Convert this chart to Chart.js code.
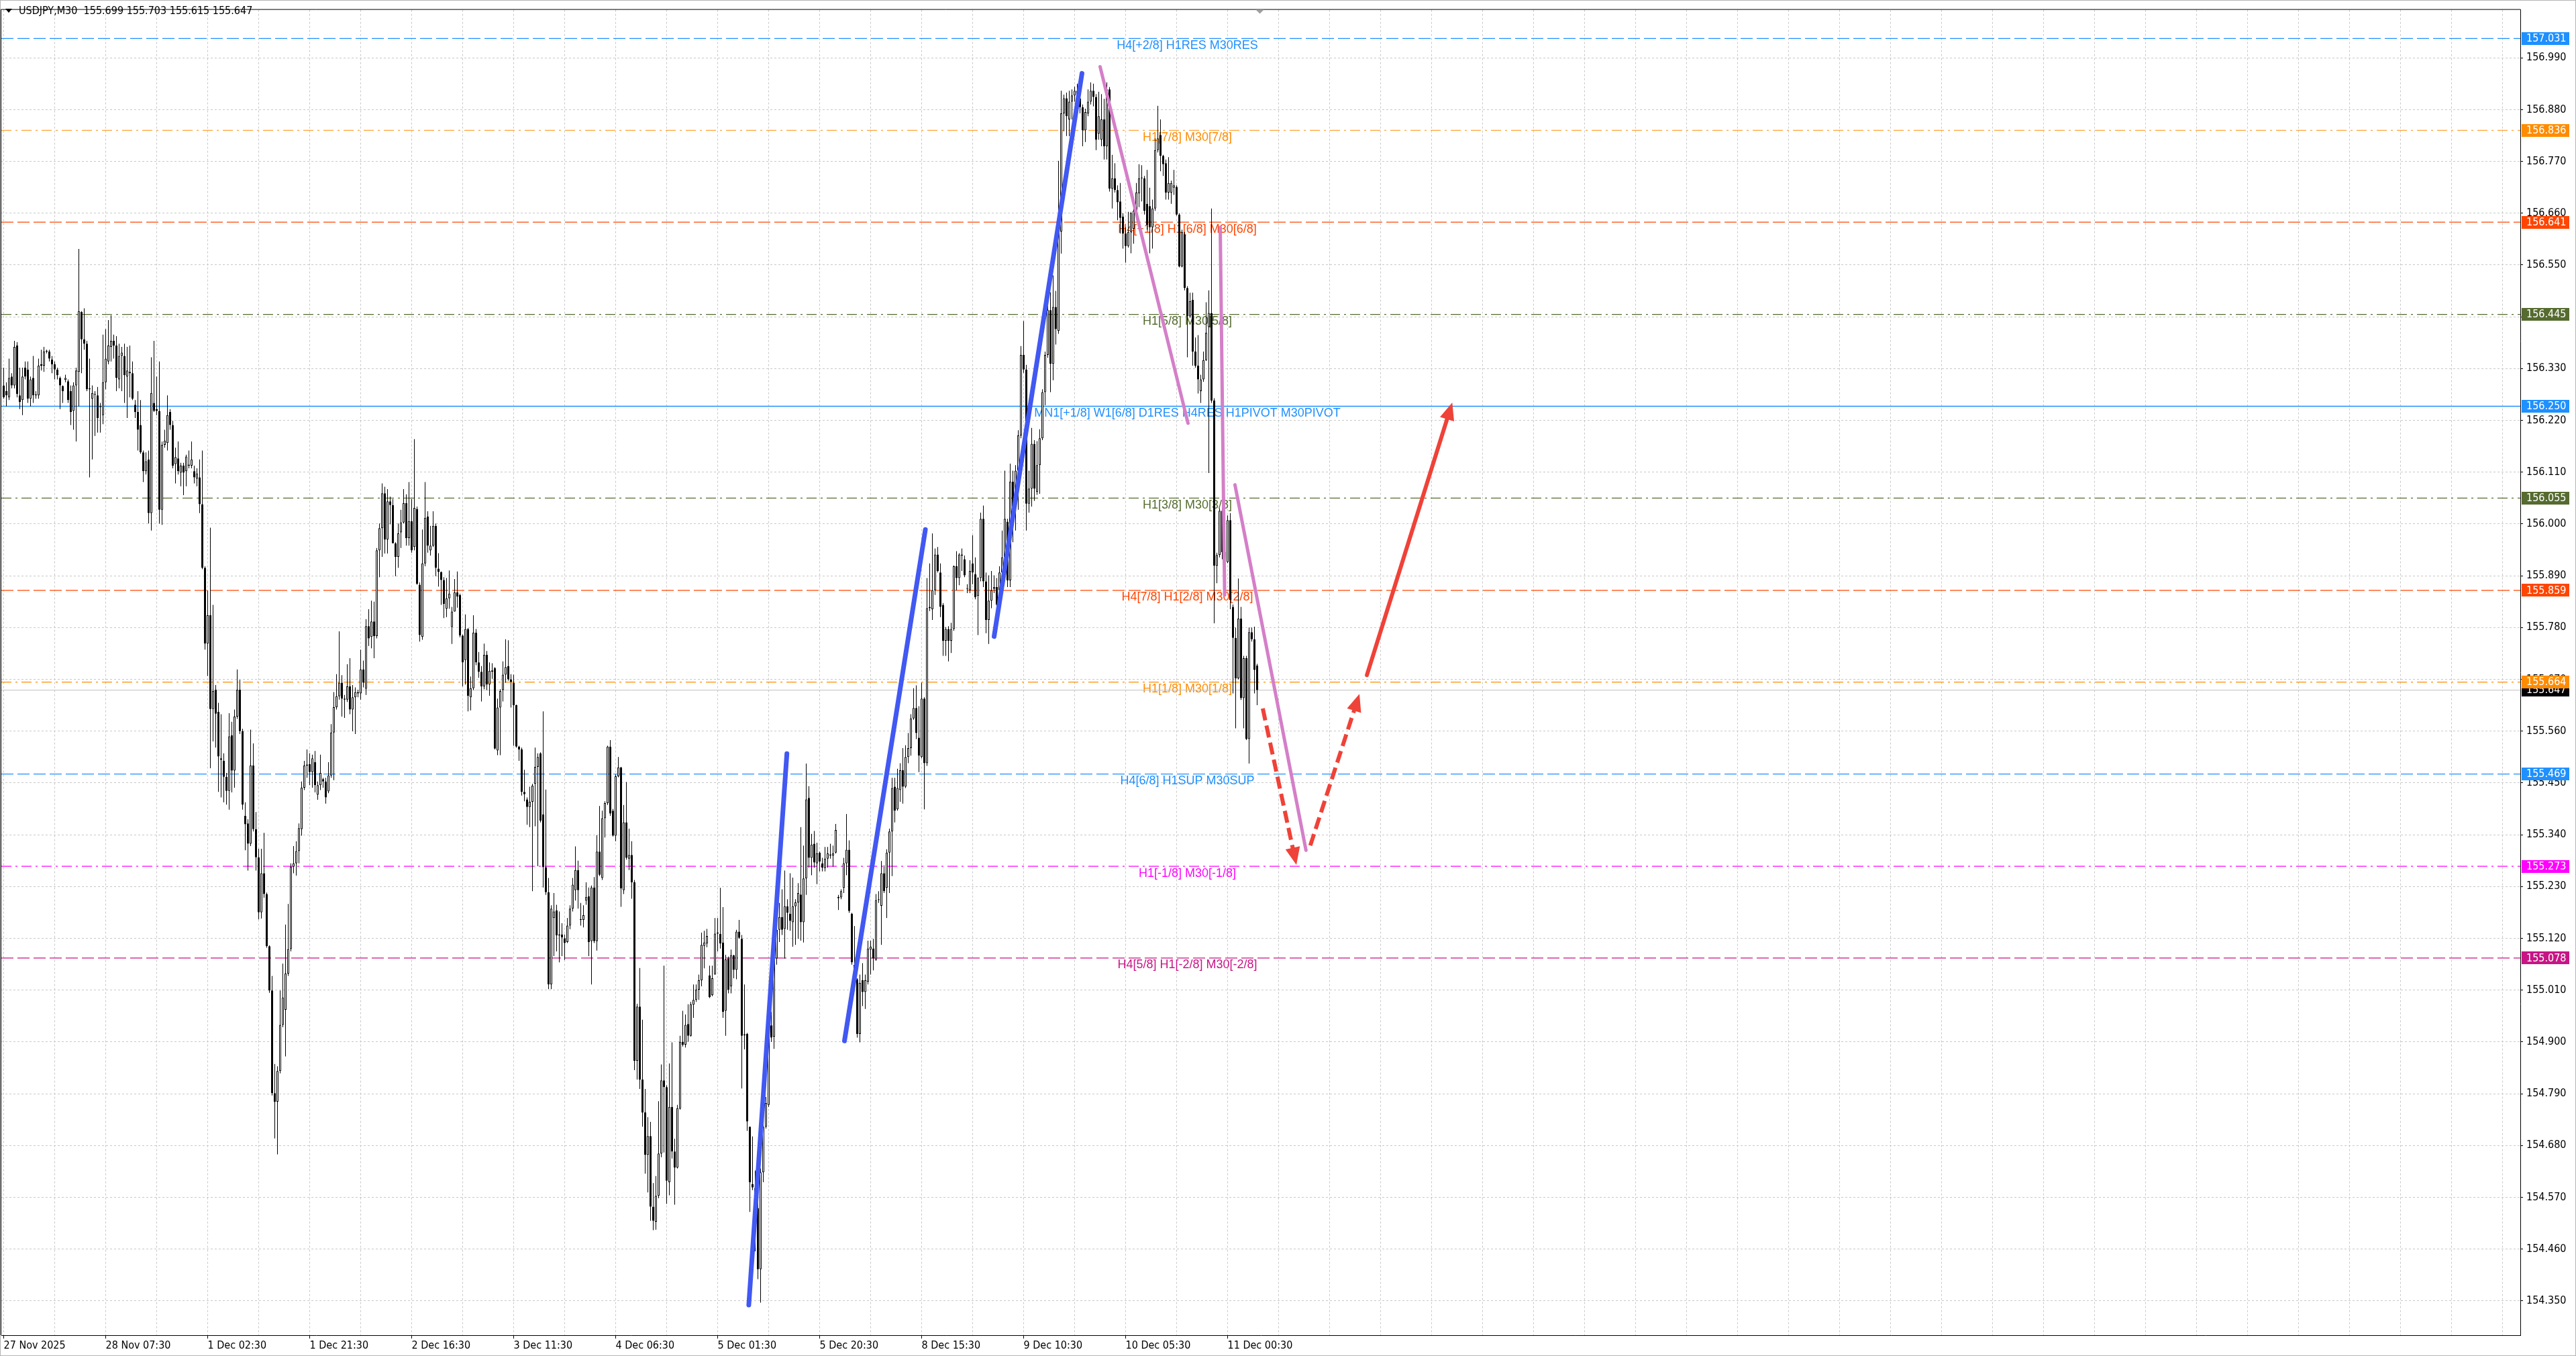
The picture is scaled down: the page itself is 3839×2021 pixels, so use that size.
<!DOCTYPE html>
<html>
<head>
<meta charset="utf-8">
<title>USDJPY,M30</title>
<script src="https://cdn.jsdelivr.net/npm/chart.js@4.4.1/dist/chart.umd.min.js"></script>
<style>
  html, body { margin: 0; padding: 0; background: #fff; overflow: hidden; }
  #wrap { position: relative; width: 3839px; height: 2021px; }
</style>
</head>
<body>
<div id="wrap"><canvas id="chart"></canvas></div>
<script>
const SYMBOL = "USDJPY,M30";

// Etiquetas del eje de tiempo (una cada 38 velas)
const X_LABELS = ["27 Nov 2025", "28 Nov 07:30", "1 Dec 02:30", "1 Dec 21:30", "2 Dec 16:30",
  "3 Dec 11:30", "4 Dec 06:30", "5 Dec 01:30", "5 Dec 20:30", "8 Dec 15:30",
  "9 Dec 10:30", "10 Dec 05:30", "11 Dec 00:30"];

const Y_TICKS = [154.350, 154.460, 154.570, 154.680, 154.790, 154.900, 155.010, 155.120,
  155.230, 155.340, 155.450, 155.560, 155.670, 155.780, 155.890, 156.000, 156.110,
  156.220, 156.330, 156.440, 156.550, 156.660, 156.770, 156.880, 156.990];

// Velas M30
const OPEN = [
  156.294,156.282,156.269,156.313,156.294,156.379,156.273,156.263,156.332,156.328,
  156.266,156.310,156.273,156.273,156.336,156.336,156.366,156.366,156.349,156.339,
  156.328,156.310,156.293,156.306,156.303,156.282,156.240,156.294,156.323,156.450,
  156.392,156.383,156.288,156.266,156.276,156.273,156.248,156.231,156.301,156.345,
  156.376,156.389,156.379,156.307,156.357,156.357,156.313,156.323,156.320,156.253,
  156.238,156.210,156.152,156.112,156.137,156.023,156.257,156.244,156.240,156.030,
  156.168,156.172,156.238,156.210,156.127,156.139,156.109,156.124,156.112,156.126,
  156.124,156.112,156.096,156.099,156.042,155.907,155.746,155.806,155.607,155.648,
  155.601,155.502,155.497,155.463,155.433,155.551,155.476,155.591,155.648,155.560,
  155.380,155.364,155.321,155.487,155.352,155.292,155.175,155.258,155.214,155.103,
  155.009,154.791,154.773,154.838,154.936,154.968,155.045,155.097,155.272,155.279,
  155.305,155.352,155.440,155.487,155.490,155.473,155.494,155.425,155.445,155.458,
  155.453,155.432,155.466,155.557,155.611,155.634,155.663,155.629,155.627,155.655,
  155.606,155.632,155.643,155.640,155.691,155.650,155.783,155.760,155.793,155.762,
  155.944,155.991,156.065,155.967,156.048,156.040,155.959,155.930,155.982,156.003,
  156.044,155.970,156.006,155.951,156.032,155.871,155.760,155.916,156.016,155.944,
  155.954,155.996,155.905,155.898,155.881,155.820,155.842,155.781,155.814,155.855,
  155.849,155.763,155.711,155.777,155.632,155.651,155.769,155.706,155.686,155.655,
  155.722,155.659,155.686,155.694,155.519,155.610,155.647,155.680,155.698,155.670,
  155.663,155.615,155.527,155.521,155.431,155.415,155.399,155.410,155.448,155.484,
  155.513,155.383,155.271,155.218,155.022,155.163,155.179,155.126,155.128,155.120,
  155.112,155.147,155.183,155.222,155.265,155.161,155.159,155.200,155.209,155.114,
  155.228,155.114,155.304,155.248,155.375,155.407,155.527,155.391,155.338,155.464,
  155.483,155.222,155.366,155.289,155.297,155.239,154.860,154.975,154.820,154.750,
  154.660,154.700,154.550,154.518,154.573,154.663,154.818,154.804,154.602,154.762,
  154.667,154.633,154.758,154.900,154.894,154.938,154.913,154.979,154.989,155.011,
  155.031,155.104,155.109,155.041,154.999,155.043,155.130,155.129,155.111,154.966,
  155.077,155.018,155.084,155.053,155.134,155.119,154.916,154.917,154.720,154.598,
  154.589,154.547,154.417,154.623,154.720,154.766,154.935,154.911,155.077,155.138,
  155.165,155.140,155.188,155.172,155.154,155.188,155.196,155.213,155.154,155.247,
  155.418,155.291,155.321,155.279,155.302,155.279,155.269,155.289,155.298,155.296,
  155.302,155.205,155.207,155.227,155.279,155.308,155.172,155.064,155.033,154.917,
  155.031,155.006,155.028,155.096,155.098,155.075,155.201,155.189,155.258,155.227,
  155.302,155.347,155.442,155.394,155.435,155.477,155.442,155.505,155.524,155.587,
  155.609,155.546,155.505,155.629,155.492,155.821,155.819,155.859,155.935,155.897,
  155.828,155.752,155.777,155.752,155.777,155.910,155.885,155.933,155.925,155.862,
  155.859,155.916,155.893,155.847,155.885,156.011,155.878,155.796,155.837,155.862,
  155.866,155.859,155.897,155.929,156.005,155.880,156.090,156.037,156.113,156.188,
  156.359,156.328,156.043,156.075,156.170,156.068,156.125,156.182,156.280,156.359,
  156.454,156.340,156.461,156.410,156.621,156.872,156.904,156.859,156.897,156.910,
  156.920,156.904,156.885,156.836,156.872,156.897,156.920,156.907,156.829,156.816,
  156.859,156.802,156.923,156.712,156.734,156.709,156.685,156.653,156.617,156.590,
  156.620,156.627,156.665,156.702,156.734,156.734,156.680,156.675,156.630,156.670,
  156.794,156.826,156.782,156.766,156.704,156.704,156.714,156.716,156.657,156.547,
  156.615,156.501,156.441,156.476,156.366,156.336,156.282,156.307,156.348,156.418,
  156.448,156.262,155.911,155.934,156.028,155.940,155.919,156.008,155.824,155.758,
  155.672,155.799,155.630,155.715,155.543,155.770,155.755,155.699,
];
const HIGH = [
  156.332,156.301,156.351,156.320,156.389,156.386,156.332,156.332,156.345,156.345,
  156.313,156.357,156.282,156.351,156.370,156.376,156.370,156.370,156.357,156.345,
  156.332,156.313,156.294,156.317,156.307,156.294,156.301,156.332,156.584,156.452,
  156.458,156.389,156.351,156.294,156.282,156.291,156.257,156.402,156.414,156.433,
  156.443,156.402,156.399,156.383,156.376,156.383,156.376,156.379,156.345,156.263,
  156.282,156.263,156.156,156.152,156.156,156.354,156.389,156.313,156.345,156.175,
  156.200,156.273,156.244,156.219,156.162,156.175,156.130,156.130,156.147,156.156,
  156.175,156.124,156.118,156.137,156.156,155.910,155.859,155.992,155.828,155.658,
  155.620,155.596,155.513,155.471,155.598,155.580,155.606,155.691,155.669,155.565,
  155.409,155.373,155.563,155.534,155.388,155.310,155.310,155.344,155.217,155.105,
  155.040,154.853,154.848,155.009,155.066,155.149,155.193,155.279,155.316,155.326,
  155.364,155.453,155.497,155.521,155.513,155.510,155.518,155.453,155.510,155.461,
  155.461,155.494,155.575,155.643,155.681,155.772,155.679,155.637,155.702,155.715,
  155.658,155.653,155.648,155.733,155.710,155.798,155.819,155.837,155.835,155.949,
  156.001,156.086,156.079,156.074,156.058,156.053,155.961,156.001,156.030,156.074,
  156.063,156.089,156.053,156.180,156.037,155.876,155.988,156.089,156.027,155.996,
  156.027,156.001,155.938,155.899,155.887,155.885,155.901,155.824,155.883,155.899,
  155.852,155.765,155.808,155.779,155.676,155.806,155.777,155.728,155.698,155.746,
  155.730,155.706,155.704,155.696,155.629,155.649,155.708,155.755,155.753,155.681,
  155.680,155.616,155.529,155.525,155.478,155.419,155.442,155.448,155.525,155.513,
  155.515,155.602,155.436,155.248,155.190,155.216,155.191,155.177,155.152,155.128,
  155.163,155.190,155.248,155.315,155.285,155.195,155.190,155.239,155.228,155.232,
  155.250,155.339,155.401,155.391,155.411,155.529,155.541,155.395,155.468,155.505,
  155.484,155.403,155.452,155.353,155.326,155.244,154.981,155.057,154.947,154.800,
  154.740,154.730,154.600,154.615,154.774,154.852,155.062,154.808,154.854,154.899,
  154.694,154.766,154.913,154.966,154.958,154.980,154.985,155.022,155.022,155.043,
  155.132,155.136,155.140,155.062,155.062,155.163,155.163,155.227,155.186,155.085,
  155.081,155.096,155.085,155.138,155.159,155.127,155.022,154.919,154.720,154.699,
  154.627,154.573,154.631,154.728,154.783,154.945,154.964,155.085,155.153,155.195,
  155.224,155.264,155.203,155.258,155.249,155.203,155.237,155.356,155.317,155.491,
  155.443,155.342,155.348,155.323,155.304,155.291,155.314,155.314,155.321,155.317,
  155.363,155.212,155.224,155.291,155.384,155.328,155.174,155.146,155.035,155.043,
  155.067,155.043,155.115,155.115,155.119,155.214,155.220,155.284,155.275,155.309,
  155.353,155.461,155.461,155.480,155.492,155.524,155.530,155.556,155.596,155.651,
  155.657,155.613,155.663,155.632,155.885,155.916,155.980,155.948,155.951,155.916,
  155.832,155.781,155.783,155.790,155.912,155.942,155.938,155.948,155.933,155.872,
  155.923,155.976,155.929,155.887,156.024,156.039,155.897,155.891,155.900,155.891,
  155.885,155.910,155.986,156.113,156.011,156.128,156.113,156.125,156.199,156.378,
  156.431,156.338,156.113,156.204,156.178,156.176,156.201,156.286,156.366,156.499,
  156.492,156.528,156.495,156.771,156.920,156.912,156.916,156.920,156.923,156.929,
  156.935,156.923,156.891,156.882,156.923,156.938,156.935,156.913,156.918,156.913,
  156.903,156.938,156.928,156.784,156.766,156.719,156.724,156.660,156.630,156.663,
  156.663,156.675,156.724,156.764,156.762,156.739,156.752,156.714,156.689,156.819,
  156.888,156.859,156.784,156.774,156.779,156.729,156.752,156.719,156.660,156.625,
  156.620,156.505,156.491,156.491,156.396,156.401,156.317,156.366,156.471,156.496,
  156.670,156.267,155.939,156.033,156.045,156.010,156.018,156.023,155.829,155.780,
  155.884,155.824,155.720,155.720,155.780,155.780,155.782,155.703,
];
const LOW = [
  156.266,156.250,156.263,156.288,156.288,156.269,156.244,156.231,156.307,156.257,
  156.250,156.257,156.266,156.266,156.326,156.323,156.362,156.345,156.320,156.307,
  156.307,156.244,156.257,156.301,156.257,156.210,156.200,156.175,156.250,156.320,
  156.370,156.282,156.099,156.137,156.187,156.194,156.194,156.212,156.286,156.339,
  156.345,156.351,156.282,156.288,156.282,156.257,156.225,156.269,156.263,156.225,
  156.156,156.149,156.089,156.105,156.001,155.986,156.238,156.231,156.001,155.998,
  156.162,156.156,156.200,156.118,156.086,156.105,156.080,156.061,156.080,156.118,
  156.118,156.086,156.080,156.023,155.904,155.733,155.677,155.481,155.538,155.525,
  155.431,155.419,155.409,155.404,155.393,155.430,155.440,155.586,155.554,155.393,
  155.307,155.264,155.316,155.347,155.264,155.160,155.162,155.206,155.100,155.004,
  154.786,154.695,154.661,154.833,154.931,154.869,155.040,155.092,155.258,155.253,
  155.279,155.338,155.435,155.461,155.445,155.440,155.430,155.414,155.435,155.440,
  155.406,155.428,155.461,155.456,155.606,155.627,155.591,155.588,155.622,155.596,
  155.560,155.554,155.632,155.627,155.653,155.637,155.741,155.736,155.715,155.757,
  155.887,155.930,155.937,155.937,155.999,155.959,155.889,155.907,155.949,156.001,
  155.954,155.954,155.939,155.944,155.871,155.750,155.754,155.910,155.939,155.933,
  155.951,155.889,155.867,155.828,155.800,155.802,155.820,155.745,155.814,155.822,
  155.759,155.655,155.659,155.602,155.604,155.647,155.700,155.673,155.623,155.649,
  155.647,155.635,155.671,155.521,155.509,155.509,155.623,155.663,155.667,155.610,
  155.529,155.525,155.497,155.423,155.411,155.361,155.356,155.220,155.358,155.273,
  155.366,155.228,155.212,155.012,155.012,155.082,155.092,155.069,155.082,155.074,
  155.110,155.139,155.177,155.200,155.183,155.147,155.143,155.191,155.082,155.022,
  155.110,155.094,155.252,155.244,155.334,155.403,155.380,155.336,155.326,155.462,
  155.187,155.214,155.287,155.265,155.204,154.840,154.820,154.800,154.720,154.620,
  154.580,154.520,154.500,154.501,154.568,154.655,154.665,154.556,154.574,154.652,
  154.554,154.631,154.756,154.890,154.888,154.900,154.911,154.951,154.985,154.989,
  155.018,155.056,155.101,154.993,154.997,155.043,155.092,155.098,154.951,154.913,
  155.003,155.003,155.035,155.033,155.119,154.801,154.884,154.711,154.539,154.585,
  154.455,154.396,154.346,154.602,154.716,154.762,154.900,154.885,155.064,155.112,
  155.127,155.077,155.138,155.136,155.102,155.106,155.119,155.115,155.111,155.212,
  155.270,155.254,155.270,155.235,155.262,155.262,155.262,155.270,155.289,155.272,
  155.300,155.180,155.203,155.216,155.254,155.174,155.064,155.031,154.909,154.899,
  154.976,154.970,155.022,155.043,155.052,155.072,155.195,155.106,155.216,155.163,
  155.216,155.252,155.366,155.391,155.410,155.406,155.439,155.492,155.508,155.584,
  155.543,155.473,155.502,155.394,155.486,155.815,155.796,155.849,155.897,155.802,
  155.720,155.720,155.708,155.726,155.773,155.859,155.870,155.900,155.887,155.853,
  155.853,155.872,155.840,155.764,155.878,155.866,155.768,155.745,155.821,155.853,
  155.824,155.847,155.885,155.923,155.866,155.866,155.961,155.986,156.030,156.182,
  156.321,155.986,156.024,156.037,156.049,156.062,156.064,156.178,156.252,156.353,
  156.280,156.305,156.381,156.404,156.574,156.834,156.824,156.824,156.859,156.897,
  156.885,156.872,156.802,156.811,156.866,156.891,156.887,156.794,156.816,156.802,
  156.774,156.774,156.706,156.670,156.704,156.645,156.617,156.585,156.555,156.587,
  156.575,156.595,156.647,156.673,156.685,156.657,156.625,156.575,156.585,156.665,
  156.789,156.749,156.739,156.689,156.689,156.680,156.699,156.655,156.545,156.545,
  156.496,156.354,156.438,156.336,156.332,156.277,156.257,156.302,156.346,156.108,
  156.257,155.789,155.874,155.929,155.925,155.905,155.917,155.819,155.640,155.566,
  155.670,155.626,155.566,155.541,155.491,155.750,155.640,155.615,
];
const CLOSE = [
  156.269,156.273,156.310,156.294,156.376,156.276,156.259,156.313,156.313,156.266,
  156.307,156.273,156.275,156.336,156.339,156.366,156.368,156.351,156.339,156.328,
  156.316,156.294,156.282,156.310,156.263,156.238,156.294,156.326,156.452,156.392,
  156.383,156.286,156.286,156.278,156.274,156.225,156.250,156.301,156.351,156.379,
  156.389,156.379,156.310,156.357,156.364,156.316,156.326,156.320,156.266,156.238,
  156.200,156.152,156.112,156.133,156.023,156.278,156.240,156.240,156.030,156.168,
  156.177,156.231,156.210,156.124,156.142,156.112,156.124,156.109,156.143,156.124,
  156.137,156.099,156.107,156.042,155.907,155.746,155.806,155.607,155.645,155.597,
  155.506,155.499,155.463,155.433,155.549,155.476,155.591,155.648,155.560,155.404,
  155.362,155.321,155.487,155.352,155.292,155.175,155.258,155.214,155.103,155.009,
  154.791,154.773,154.838,154.936,154.994,155.045,155.097,155.272,155.279,155.305,
  155.354,155.440,155.487,155.489,155.473,155.502,155.445,155.445,155.471,155.453,
  155.419,155.466,155.557,155.611,155.634,155.663,155.629,155.627,155.655,155.606,
  155.632,155.643,155.640,155.691,155.663,155.783,155.757,155.793,155.762,155.944,
  155.991,156.065,155.967,156.048,156.040,155.959,155.930,155.980,156.003,156.044,
  155.970,156.006,155.944,156.034,155.873,155.764,155.916,156.013,155.954,155.954,
  155.996,155.907,155.898,155.881,155.830,155.842,155.852,155.814,155.855,155.846,
  155.763,155.706,155.777,155.635,155.651,155.769,155.706,155.686,155.655,155.722,
  155.659,155.688,155.689,155.523,155.610,155.645,155.680,155.696,155.670,155.665,
  155.615,155.527,155.521,155.431,155.426,155.399,155.410,155.444,155.484,155.505,
  155.370,155.271,155.218,155.022,155.183,155.177,155.126,155.128,155.122,155.110,
  155.147,155.183,155.234,155.265,155.222,155.159,155.169,155.208,155.112,155.228,
  155.114,155.304,155.255,155.375,155.407,155.527,155.385,155.338,155.464,155.483,
  155.226,155.366,155.291,155.297,155.239,154.860,154.975,154.820,154.750,154.660,
  154.700,154.550,154.520,154.573,154.663,154.818,154.804,154.605,154.762,154.667,
  154.633,154.759,154.900,154.894,154.936,154.913,154.980,154.989,155.011,155.031,
  155.106,155.111,155.125,154.995,155.035,155.130,155.132,155.109,154.964,155.075,
  155.011,155.084,155.053,155.134,155.121,154.913,154.914,154.731,154.602,154.591,
  154.547,154.417,154.623,154.720,154.770,154.935,154.909,155.077,155.138,155.165,
  155.138,155.188,155.174,155.157,155.188,155.196,155.216,155.154,155.247,155.415,
  155.291,155.319,155.281,155.300,155.283,155.270,155.289,155.300,155.296,155.301,
  155.350,155.208,155.220,155.279,155.308,155.178,155.069,155.035,154.917,155.025,
  155.006,155.031,155.098,155.102,155.077,155.201,155.203,155.258,155.220,155.302,
  155.347,155.439,155.391,155.439,155.477,155.442,155.505,155.524,155.587,155.609,
  155.556,155.508,155.629,155.492,155.821,155.824,155.859,155.935,155.900,155.824,
  155.752,155.777,155.752,155.777,155.910,155.885,155.935,155.935,155.891,155.862,
  155.900,155.897,155.844,155.885,156.011,155.878,155.796,155.837,155.859,155.866,
  155.828,155.897,155.929,156.011,155.880,156.090,156.037,156.113,156.188,156.359,
  156.328,156.043,156.075,156.170,156.075,156.125,156.182,156.280,156.359,156.454,
  156.340,156.461,156.414,156.621,156.872,156.904,156.866,156.897,156.910,156.920,
  156.904,156.885,156.836,156.875,156.897,156.920,156.907,156.816,156.866,156.859,
  156.802,156.923,156.712,156.734,156.709,156.683,156.650,156.617,156.590,156.620,
  156.660,156.665,156.704,156.734,156.736,156.665,156.635,156.630,156.670,156.794,
  156.819,156.782,156.764,156.704,156.724,156.724,156.719,156.657,156.547,156.620,
  156.501,156.441,156.473,156.366,156.336,156.307,156.307,156.348,156.406,156.448,
  156.262,155.911,155.934,156.028,155.940,155.920,156.008,155.839,155.758,155.672,
  155.799,155.630,155.715,155.543,155.770,155.755,155.690,155.647,
];

// Niveles Murrey (precio y texto)
const LEVELS = [157.031, 156.836, 156.641, 156.445, 156.250, 156.055, 155.859, 155.664, 155.469, 155.273, 155.078];
const LEVEL_TEXT = [
  "H4[+2/8] H1RES M30RES",
  "H1[7/8] M30[7/8]",
  "H4[+1/8] H1[6/8] M30[6/8]",
  "H1[5/8] M30[5/8]",
  "MN1[+1/8] W1[6/8] D1RES H4RES H1PIVOT M30PIVOT",
  "H1[3/8] M30[3/8]",
  "H4[7/8] H1[2/8] M30[2/8]",
  "H1[1/8] M30[1/8]",
  "H4[6/8] H1SUP M30SUP",
  "H1[-1/8] M30[-1/8]",
  "H4[5/8] H1[-2/8] M30[-2/8]",
];

// Líneas dibujadas a mano: [vela inicio, precio inicio, vela fin, precio fin]
const BLUE_LINES = [
  [277.6, 154.341, 291.8, 155.512],
  [313.25, 154.902, 343.4, 155.988],
  [369.0, 155.761, 401.75, 156.957],
];
const PINK_LINES = [
  [408.5, 156.971, 441.25, 156.214],
  [453.25, 156.630, 454.9, 155.849],
  [458.75, 156.083, 485.2, 155.307],
];
const RED_DASHED = [
  [469.1, 155.608, 481.2, 155.287],
  [486.8, 155.317, 504.5, 155.628],
];
const RED_SOLID = [
  [507.9, 155.679, 539.1, 156.247],
];

// ---- estilos y vista

const DODGER = "#1E90FF";
const DARK_ORANGE = "#FF8C00";
const ORANGE_RED = "#FF4500";
const OLIVE = "#556B2F";
const MAGENTA = "#FF00FF";
const VIOLET_RED = "#C71585";
const LEVEL_COLORS = [DODGER, DARK_ORANGE, ORANGE_RED, OLIVE, DODGER, OLIVE, ORANGE_RED, DARK_ORANGE, DODGER, MAGENTA, VIOLET_RED];
const LEVEL_STYLES = ["dash", "dashdot", "dash", "dashdot", "solid", "dashdot", "dash", "dashdot", "dash", "dashdot", "dash"];
const DASHES = { dash: [18, 6], dashdot: [15, 6, 3, 6], solid: [] };

const X_MIN = -0.875;
const X_MAX = 937.625;
const Y_MIN = 154.277;
const Y_MAX = 157.092;
const GRID_STEP = 19;
const LABEL_BAR = 441;
const SHIFT_BAR = 468;

const AXIS_FAMILY = '"DejaVu Sans Condensed", "DejaVu Sans", sans-serif';
const TEXT_FONT = '18px "Liberation Sans", Arial, sans-serif';

Chart.defaults.font.family = AXIS_FAMILY;
Chart.defaults.font.size = 16;
Chart.defaults.color = "#000";

const last = CLOSE.length - 1;

const levelDatasets = LEVELS.map((price, i) => ({
  type: "line",
  data: [{ x: X_MIN, y: price }, { x: X_MAX, y: price }],
  borderColor: LEVEL_COLORS[i],
  borderWidth: LEVEL_STYLES[i] === "solid" ? 1.6 : 1.2,
  borderDash: DASHES[LEVEL_STYLES[i]],
  pointRadius: 0,
  order: 10,
}));

const bidLine = {
  type: "line",
  data: [{ x: X_MIN, y: CLOSE[last] }, { x: X_MAX, y: CLOSE[last] }],
  borderColor: "#c0c0c0",
  borderWidth: 1,
  pointRadius: 0,
  order: 9,
};

const wicks = {
  type: "bar",
  data: CLOSE.map((_, i) => ({ x: i, y: [LOW[i], HIGH[i]] })),
  backgroundColor: "#000",
  borderWidth: 0,
  barThickness: 1,
  minBarLength: 1,
  grouped: false,
  inflateAmount: 0,
  order: 5,
};

const bodies = {
  type: "bar",
  data: CLOSE.map((c, i) => ({ x: i, y: [OPEN[i], c] })),
  backgroundColor: CLOSE.map((c, i) => (c >= OPEN[i] ? "#ffffff" : "#000000")),
  borderColor: "#000",
  borderWidth: 1,
  borderSkipped: false,
  barThickness: 3,
  minBarLength: 1,
  grouped: false,
  inflateAmount: 0,
  order: 4,
};

function segment(seg, color, width, dash, cap, arrow) {
  return {
    type: "line",
    data: [{ x: seg[0], y: seg[1] }, { x: seg[2], y: seg[3] }],
    borderColor: color,
    borderWidth: width,
    borderDash: dash,
    borderCapStyle: cap,
    pointRadius: 0,
    order: 0,
    arrowHead: arrow,
  };
}

const drawings = [
  ...BLUE_LINES.map((s) => segment(s, "#4158F2", 7, [], "round", false)),
  ...PINK_LINES.map((s) => segment(s, "#D47FC8", 5, [], "round", false)),
  ...RED_DASHED.map((s) => segment(s, "#EF4238", 6, [18, 8], "butt", true)),
  ...RED_SOLID.map((s) => segment(s, "#EF4238", 6, [], "round", true)),
];

// Textos de los niveles (detrás de las velas)
const levelTextPlugin = {
  id: "levelText",
  beforeDatasetsDraw(chart) {
    const { ctx, scales } = chart;
    const x = scales.x.getPixelForValue(LABEL_BAR);
    ctx.save();
    ctx.font = TEXT_FONT;
    ctx.textAlign = "center";
    ctx.textBaseline = "middle";
    LEVELS.forEach((price, i) => {
      ctx.fillStyle = LEVEL_COLORS[i];
      ctx.fillText(LEVEL_TEXT[i], x, scales.y.getPixelForValue(price) + 10.5);
    });
    ctx.restore();
  },
};

const arrowPlugin = {
  id: "arrowHeads",
  afterDatasetsDraw(chart) {
    const ctx = chart.ctx;
    chart.data.datasets.forEach((ds, i) => {
      if (!ds.arrowHead) return;
      const [a, b] = chart.getDatasetMeta(i).data;
      const ang = Math.atan2(b.y - a.y, b.x - a.x);
      const cos = Math.cos(ang);
      const sin = Math.sin(ang);
      const tipX = b.x + cos * 8;
      const tipY = b.y + sin * 8;
      const baseX = tipX - cos * 26;
      const baseY = tipY - sin * 26;
      ctx.save();
      ctx.fillStyle = ds.borderColor;
      ctx.beginPath();
      ctx.moveTo(tipX, tipY);
      ctx.lineTo(baseX + sin * 11, baseY - cos * 11);
      ctx.lineTo(baseX - sin * 11, baseY + cos * 11);
      ctx.closePath();
      ctx.fill();
      ctx.restore();
    });
  },
};

// Marco, cajas de precio en el eje y cabecera
const overlayPlugin = {
  id: "overlay",
  afterDraw(chart) {
    const { ctx, chartArea, scales } = chart;
    ctx.save();

    ctx.strokeStyle = "#000";
    ctx.lineWidth = 1;
    ctx.beginPath();
    ctx.moveTo(chartArea.left - 0.5, chartArea.bottom);
    ctx.lineTo(chartArea.left - 0.5, chartArea.top - 0.5);
    ctx.lineTo(chartArea.right, chartArea.top - 0.5);
    ctx.stroke();

    ctx.strokeStyle = "#b4b4b4";
    ctx.strokeRect(0.5, 0.5, chart.width - 1, chart.height - 1);

    // marca de desplazamiento del gráfico
    const sx = scales.x.getPixelForValue(SHIFT_BAR);
    ctx.fillStyle = "#a0a0a0";
    ctx.beginPath();
    ctx.moveTo(sx - 6, chartArea.top);
    ctx.lineTo(sx + 6, chartArea.top);
    ctx.lineTo(sx, chartArea.top + 6);
    ctx.closePath();
    ctx.fill();

    const boxLeft = chartArea.right + 2;
    const boxWidth = 71;
    const boxHeight = 19;
    ctx.font = `16px ${AXIS_FAMILY}`;
    ctx.textBaseline = "middle";
    ctx.textAlign = "left";
    const drawBox = (price, color) => {
      const y = scales.y.getPixelForValue(price);
      ctx.fillStyle = color;
      ctx.fillRect(boxLeft, Math.round(y - boxHeight / 2), boxWidth, boxHeight);
      ctx.fillStyle = "#fff";
      ctx.fillText(price.toFixed(3), chartArea.right + 9, y + 0.5);
    };
    drawBox(CLOSE[last], "#000");
    LEVELS.forEach((price, i) => drawBox(price, LEVEL_COLORS[i]));

    ctx.fillStyle = "#000";
    ctx.beginPath();
    ctx.moveTo(8, 13);
    ctx.lineTo(18, 13);
    ctx.lineTo(13, 19);
    ctx.closePath();
    ctx.fill();
    const ohlc = [OPEN[last], HIGH[last], LOW[last], CLOSE[last]].map((v) => v.toFixed(3)).join(" ");
    ctx.fillText(`${SYMBOL}  ${ohlc}`, 28, 17);

    ctx.restore();
  },
};

new Chart(document.querySelector("#chart"), {
  type: "bar",
  data: { datasets: [...levelDatasets, bidLine, wicks, bodies, ...drawings] },
  options: {
    responsive: true,
    maintainAspectRatio: false,
    animation: false,
    events: [],
    layout: { padding: { left: 2, top: 2, right: 0, bottom: 0 }, autoPadding: false },
    plugins: { legend: { display: false }, tooltip: { enabled: false } },
    scales: {
      x: {
        type: "linear",
        min: X_MIN,
        max: X_MAX,
        offset: false,
        afterBuildTicks: (scale) => {
          const ticks = [];
          for (let v = 0; v <= X_MAX; v += GRID_STEP) ticks.push({ value: v });
          scale.ticks = ticks;
        },
        afterFit: (scale) => { scale.height = 31; },
        grid: {
          offset: false,
          color: "#c8c8c8",
          tickLength: 5,
          tickColor: (c) => (c.index % 2 === 0 && c.index / 2 < X_LABELS.length ? "#000" : "rgba(0,0,0,0)"),
        },
        border: { display: true, color: "#000", width: 1, dash: [3, 3] },
        ticks: {
          autoSkip: false,
          maxRotation: 0,
          align: "start",
          padding: 1,
          font: { size: 16 },
          callback: (v, i) => (i % 2 === 0 && X_LABELS[i / 2]) || "",
        },
      },
      y: {
        type: "linear",
        position: "right",
        min: Y_MIN,
        max: Y_MAX,
        afterBuildTicks: (scale) => { scale.ticks = Y_TICKS.map((v) => ({ value: v })); },
        afterFit: (scale) => { scale.width = 83; },
        grid: { color: "#c8c8c8", tickLength: 4, tickColor: "#000" },
        border: { display: true, color: "#000", width: 1, dash: [3, 3] },
        ticks: { padding: 5, font: { size: 16 }, callback: (v) => Number(v).toFixed(3) },
      },
    },
  },
  plugins: [levelTextPlugin, arrowPlugin, overlayPlugin],
});
</script>
</body>
</html>
